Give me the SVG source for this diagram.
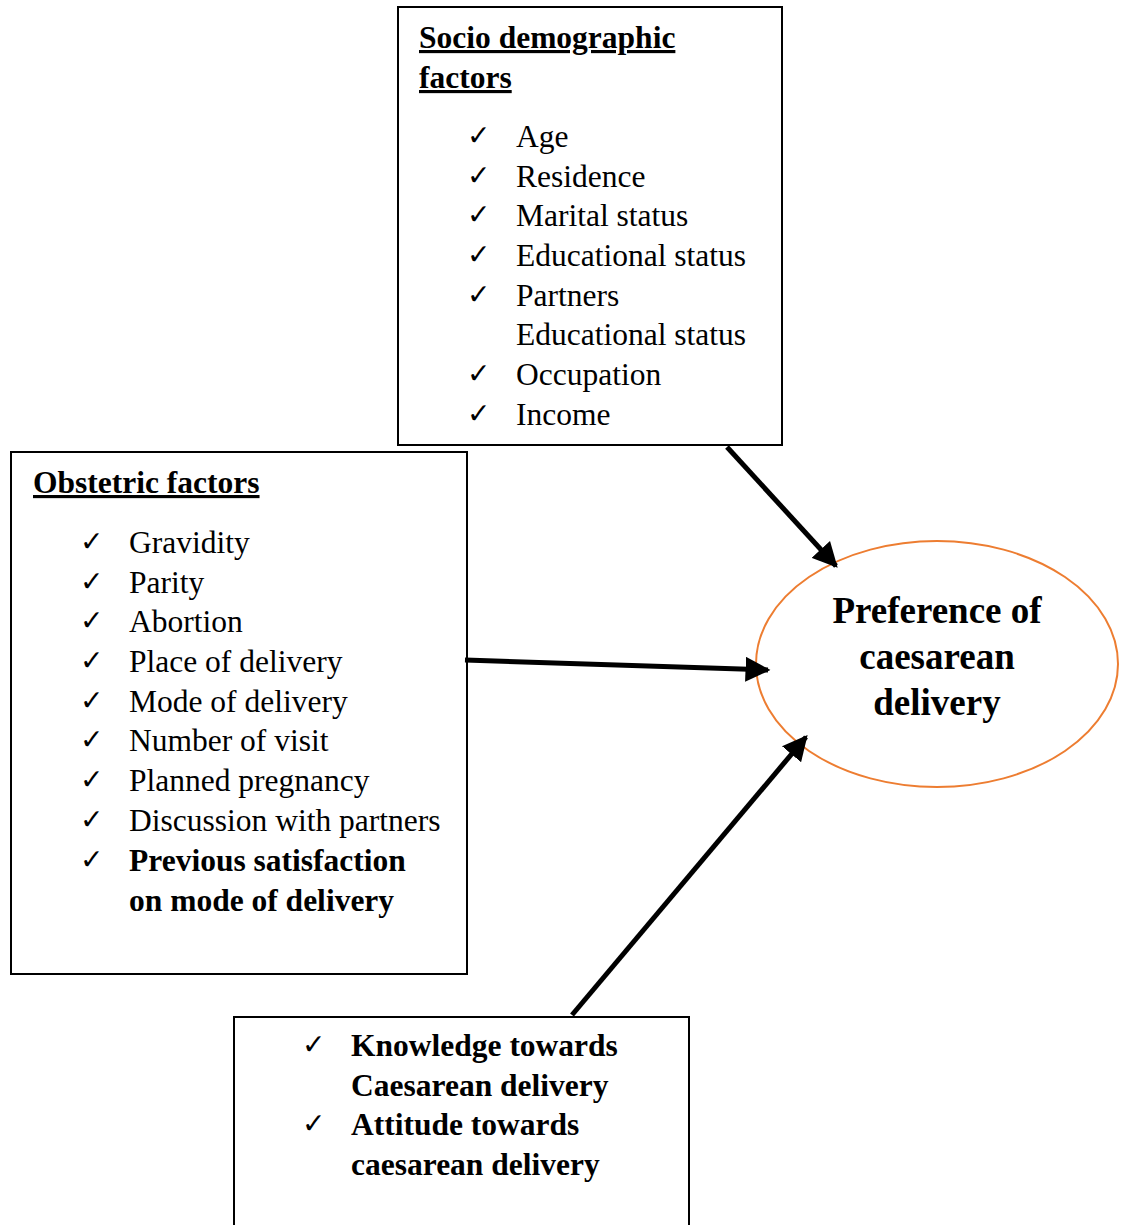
<svg xmlns="http://www.w3.org/2000/svg" width="1123" height="1225" viewBox="0 0 1123 1225">
<style>
.box{fill:#fff;stroke:#000;stroke-width:2}
.t{font-family:"Liberation Serif","Times New Roman",serif;font-size:31.5px;fill:#000}
.b{font-weight:bold}
.u{text-decoration:underline}
.ck{font-family:"DejaVu Sans",sans-serif;font-size:28px;fill:#000}
.c{font-family:"Liberation Serif","Times New Roman",serif;font-size:37px;font-weight:bold;text-anchor:middle}
.ar{stroke:#000;stroke-width:5;fill:none;marker-end:url(#ah)}
</style>
<defs>
<marker id="ah" viewBox="0 0 10 10" refX="9" refY="5" markerWidth="5" markerHeight="5" orient="auto" markerUnits="strokeWidth">
<path d="M0,0 L10,5 L0,10 z" fill="#000"/>
</marker>
</defs>
<rect width="1123" height="1225" fill="#fff"/>
<g id="socio">
<rect class="box" x="398" y="7" width="384" height="438"/>
<text class="t b u" x="419" y="48">Socio demographic</text>
<text class="t b u" x="419" y="88">factors</text>
<text class="ck" x="467" y="145">✓</text><text class="t" x="516" y="147">Age</text>
<text class="ck" x="467" y="185">✓</text><text class="t" x="516" y="187">Residence</text>
<text class="ck" x="467" y="224">✓</text><text class="t" x="516" y="226">Marital status</text>
<text class="ck" x="467" y="264">✓</text><text class="t" x="516" y="266">Educational status</text>
<text class="ck" x="467" y="304">✓</text><text class="t" x="516" y="306">Partners</text>
<text class="t" x="516" y="345">Educational status</text>
<text class="ck" x="467" y="383">✓</text><text class="t" x="516" y="385">Occupation</text>
<text class="ck" x="467" y="423">✓</text><text class="t" x="516" y="425">Income</text>
</g>
<g id="obstetric">
<rect class="box" x="11" y="452" width="456" height="522"/>
<text class="t b u" x="33" y="493">Obstetric factors</text>
<text class="ck" x="80" y="551">✓</text><text class="t" x="129" y="553">Gravidity</text>
<text class="ck" x="80" y="591">✓</text><text class="t" x="129" y="593">Parity</text>
<text class="ck" x="80" y="630">✓</text><text class="t" x="129" y="632">Abortion</text>
<text class="ck" x="80" y="670">✓</text><text class="t" x="129" y="672">Place of delivery</text>
<text class="ck" x="80" y="710">✓</text><text class="t" x="129" y="712">Mode of delivery</text>
<text class="ck" x="80" y="749">✓</text><text class="t" x="129" y="751">Number of visit</text>
<text class="ck" x="80" y="789">✓</text><text class="t" x="129" y="791">Planned pregnancy</text>
<text class="ck" x="80" y="829">✓</text><text class="t" x="129" y="831">Discussion with partners</text>
<text class="ck" x="80" y="869">✓</text><text class="t b" x="129" y="871">Previous satisfaction</text>
<text class="t b" x="129" y="911">on mode of delivery</text>
</g>
<g id="knowledge">
<rect class="box" x="234" y="1017" width="455" height="220"/>
<text class="ck" x="302" y="1054">✓</text><text class="t b" x="351" y="1056">Knowledge towards</text>
<text class="t b" x="351" y="1096">Caesarean delivery</text>
<text class="ck" x="302" y="1133">✓</text><text class="t b" x="351" y="1135">Attitude towards</text>
<text class="t b" x="351" y="1175">caesarean delivery</text>
</g>
<g id="preference">
<ellipse cx="937" cy="664" rx="181" ry="123" fill="#fff" stroke="#ED7D31" stroke-width="2"/>
<text class="c" x="937" y="623">Preference of</text>
<text class="c" x="937" y="669">caesarean</text>
<text class="c" x="937" y="715">delivery</text>
</g>
<g id="connectors">
<line class="ar" x1="727" y1="447" x2="836" y2="566"/>
<line class="ar" x1="465" y1="660" x2="768" y2="670"/>
<line class="ar" x1="572" y1="1015" x2="806" y2="737"/>
</g>
</svg>
